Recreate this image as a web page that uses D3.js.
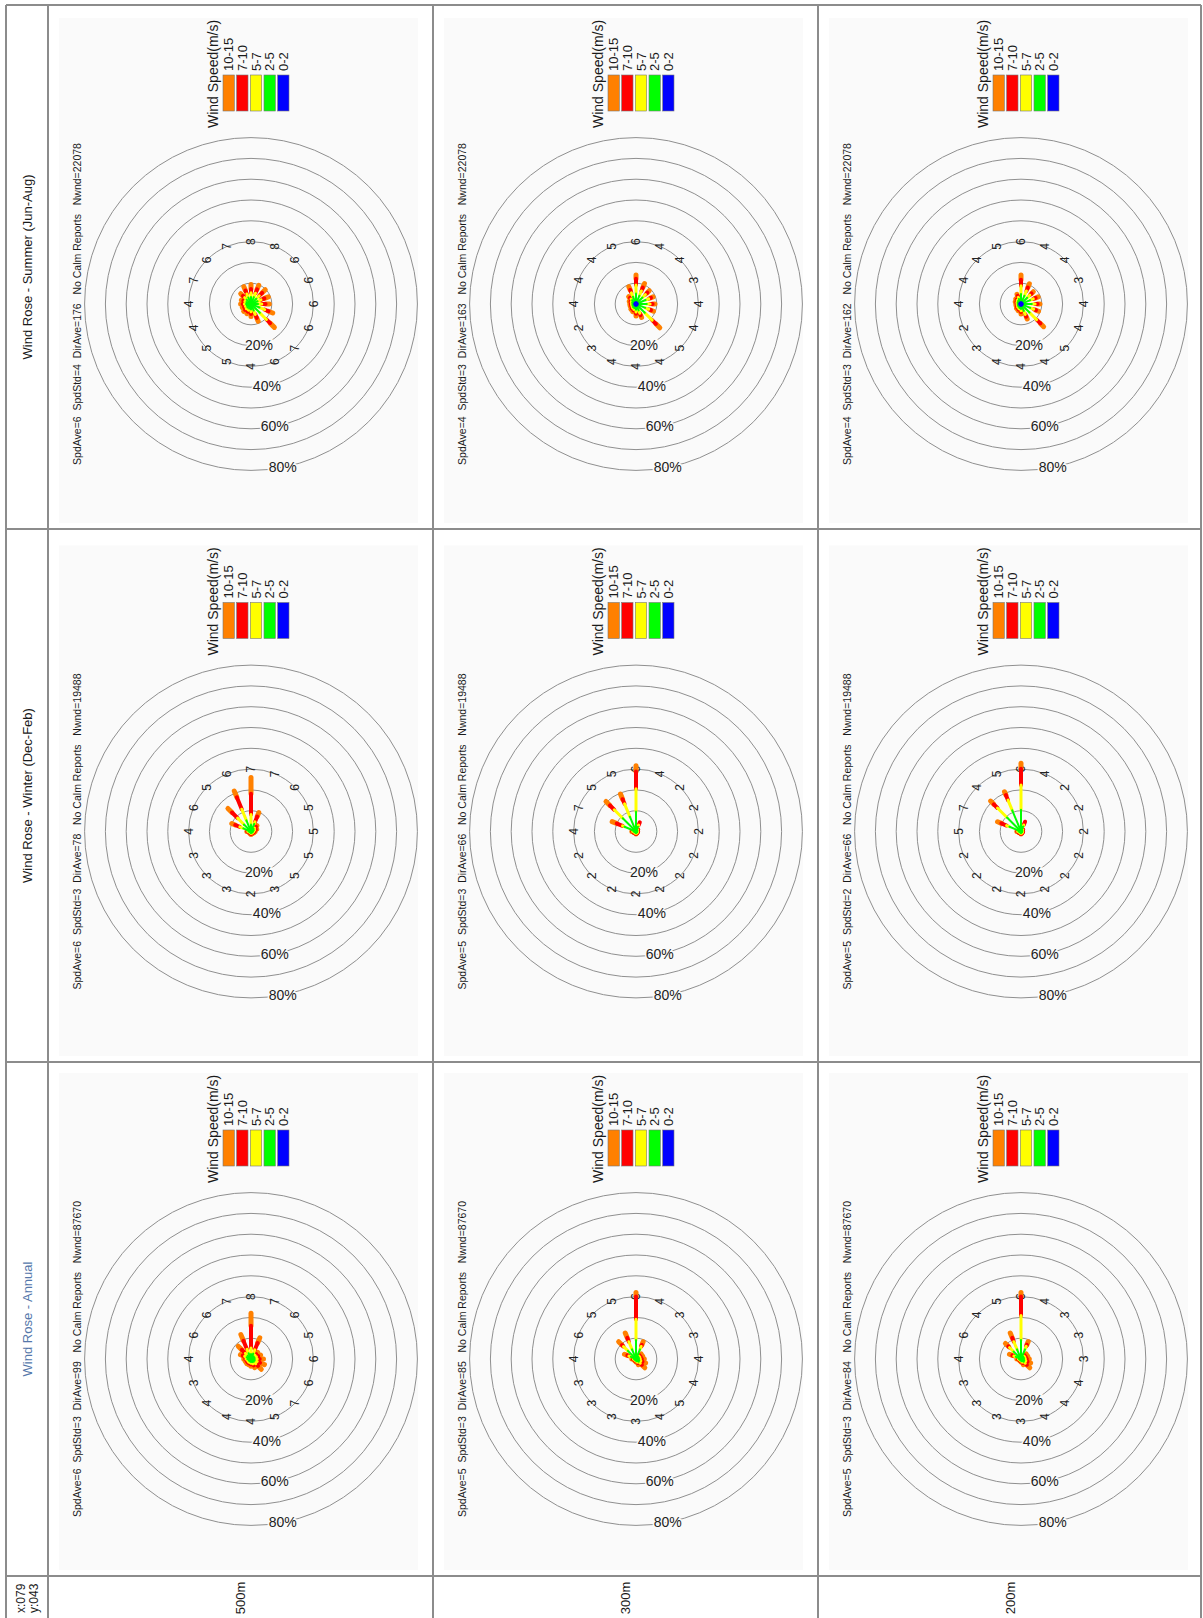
<!DOCTYPE html>
<html>
<head>
<meta charset="utf-8">
<script src="https://cdn.jsdelivr.net/npm/d3@7"></script>
<style>
  html, body { margin: 0; padding: 0; background: #fff; }
  svg { display: block; }
  text { font-family: "Liberation Sans", Arial, Helvetica, sans-serif; white-space: pre; }
</style>
</head>
<body>
<svg id="chart" width="1203" height="1618"></svg>
<script>
// compass sectors, N first, clockwise
var DIRECTIONS = ["N", "NNE", "NE", "ENE", "E", "ESE", "SE", "SSE", "S", "SSW", "SW", "WSW", "W", "WNW", "NW", "NNW"];
var SPEED_BINS = ["0-2", "2-5", "5-7", "7-10", "10-15"];
var HEIGHTS = ["500m", "300m", "200m"];
var SEASONS = ["summer", "winter", "annual"];
var SEASON_TITLES = ["Wind Rose - Summer (Jun-Aug)", "Wind Rose - Winter (Dec-Feb)", "Wind Rose - Annual"];
var RINGS = [10, 20, 30, 40, 50, 60, 70, 80];
var PERCENT_TICKS = [20, 40, 60, 80];
var CORNER_LABEL = ["x:079", "y:043"];

// mean speed per sector (numbers written on the 30% ring)
var summer500Labels = [4, 7, 6, 7, 8, 8, 6, 6, 6, 6, 7, 6, 4, 5, 5, 4];
var summer300Labels = [4, 4, 4, 5, 6, 4, 4, 3, 4, 4, 5, 4, 4, 4, 3, 2];
var summer200Labels = [4, 4, 4, 5, 6, 4, 4, 3, 4, 4, 5, 4, 4, 4, 3, 2];
var winter500Labels = [4, 6, 5, 6, 7, 7, 6, 5, 5, 5, 5, 3, 2, 3, 3, 3];
var winter300Labels = [4, 7, 5, 5, 6, 4, 2, 2, 2, 2, 2, 2, 2, 2, 2, 2];
var winter200Labels = [5, 7, 4, 5, 6, 4, 2, 2, 2, 2, 2, 2, 2, 2, 2, 2];
var annual500Labels = [4, 6, 6, 7, 8, 7, 6, 5, 6, 6, 7, 5, 4, 4, 4, 3];
var annual300Labels = [4, 6, 5, 5, 6, 4, 3, 3, 4, 4, 5, 4, 3, 3, 3, 3];
var annual200Labels = [4, 6, 4, 5, 6, 4, 3, 3, 3, 4, 4, 4, 3, 3, 3, 3];

// frequency (%) per sector, split by speed bin [0-2, 2-5, 5-7, 7-10, 10-15]
var summer500Freq = [
    [0, 2.4, 0.8, 0.8, 1.0], [0, 2.4, 0.8, 0.8, 1.0], [0, 3.0, 1.3, 1.2, 1.5], [0, 3.4, 1.8, 1.8, 2.0],
    [0, 3.4, 2.0, 1.8, 2.2], [0, 3.6, 2.0, 2.0, 2.1], [0, 3.6, 2.0, 2.0, 2.1], [0, 3.4, 1.8, 1.8, 2.0],
    [0, 3.4, 1.8, 1.8, 1.8], [0, 4.4, 2.7, 2.0, 2.2], [0, 6.0, 4.5, 2.5, 2.9], [0, 3.4, 2.0, 1.8, 1.8],
    [0, 2.7, 1.0, 1.1, 1.2], [0, 2.4, 0.8, 0.8, 1.0], [0, 2.4, 0.8, 0.8, 1.0], [0, 2.2, 0.7, 0.7, 0.9]
];
var summer300Freq = [
    [0.8, 1.0, 0.4, 0.3, 0.5], [0.8, 1.2, 0.5, 0.4, 0.6], [0.8, 1.8, 0.8, 0.7, 0.9], [0.8, 3.0, 2.0, 1.5, 1.7],
    [0.8, 4.2, 4.1, 3.0, 1.9], [0.8, 3.5, 2.5, 1.8, 2.0], [0.8, 3.6, 2.0, 1.3, 1.3], [0.8, 4.2, 1.6, 1.2, 1.1],
    [0.8, 4.4, 1.6, 1.2, 1.1], [0.8, 4.0, 1.8, 1.2, 1.3], [0.8, 5.2, 5.0, 2.5, 2.7], [0.8, 2.5, 1.5, 1.0, 1.2],
    [0.8, 2.0, 1.0, 0.9, 1.1], [0.8, 1.4, 0.6, 0.5, 0.7], [0.8, 1.2, 0.5, 0.4, 0.6], [0.8, 1.0, 0.4, 0.3, 0.5]
];
var summer200Freq = [
    [0.8, 0.8, 0.3, 0.2, 0.4], [0.8, 0.9, 0.4, 0.3, 0.6], [0.8, 1.2, 0.5, 0.4, 0.6], [0.8, 1.8, 0.9, 0.7, 0.8],
    [0.8, 4.0, 4.0, 2.9, 2.2], [0.8, 3.5, 2.5, 1.8, 1.9], [0.8, 3.4, 1.8, 1.2, 1.2], [0.8, 4.0, 1.6, 1.2, 1.3],
    [0.8, 4.4, 1.6, 1.2, 1.1], [0.8, 4.0, 1.8, 1.2, 1.3], [0.8, 5.0, 4.8, 2.6, 2.2], [0.8, 2.8, 1.8, 1.2, 1.2],
    [0.8, 1.6, 0.8, 0.7, 0.9], [0.8, 1.2, 0.5, 0.4, 0.6], [0.8, 1.0, 0.4, 0.3, 0.5], [0.8, 0.8, 0.3, 0.2, 0.4]
];
var winter500Freq = [
    [0, 1.2, 0.3, 0.3, 0.2], [0, 4.0, 1.8, 2.4, 1.8], [0, 4.8, 4.3, 3.8, 2.8], [0, 5.8, 5.8, 6.2, 3.2],
    [0, 3.4, 4.8, 10.0, 7.8], [0, 4.0, 1.0, 2.8, 2.0], [0, 1.8, 0.6, 0.9, 0.7], [0, 1.4, 0.5, 0.6, 0.5],
    [0, 1.0, 0.3, 0.4, 0.3], [0, 0.8, 0.2, 0.3, 0.2], [0, 0.7, 0.2, 0.2, 0.1], [0, 0.6, 0.1, 0.2, 0.1],
    [0, 0.7, 0.2, 0.3, 0.3], [0, 0.6, 0.1, 0.2, 0.1], [0, 0.6, 0.1, 0.2, 0.1], [0, 0.6, 0.1, 0.2, 0.1]
];
var winter300Freq = [
    [0, 1.2, 0.4, 0.2, 0.2], [0, 6.0, 1.0, 3.0, 2.4], [0, 9.0, 5.8, 2.9, 2.7], [0, 7.7, 6.7, 2.4, 2.7],
    [0, 9.6, 11.0, 8.2, 2.8], [0, 2.5, 0.8, 1.5, 0.0], [0, 0.9, 0.3, 0.3, 0.0], [0, 0.6, 0.2, 0.2, 0.0],
    [0, 0.6, 0.2, 0.2, 0.0], [0, 0.6, 0.2, 0.2, 0.0], [0, 0.6, 0.2, 0.2, 0.0], [0, 0.6, 0.2, 0.2, 0.0],
    [0, 0.7, 0.2, 0.2, 0.1], [0, 0.6, 0.2, 0.2, 0.0], [0, 0.6, 0.2, 0.2, 0.0], [0, 0.7, 0.2, 0.2, 0.1]
];
var winter200Freq = [
    [0, 1.2, 0.4, 0.2, 0.2], [0, 6.0, 1.5, 2.7, 2.0], [0, 9.5, 6.5, 2.5, 2.2], [0, 11.0, 5.3, 2.7, 1.7],
    [0, 10.4, 12.0, 7.8, 2.6], [0, 2.6, 0.8, 1.7, 0.0], [0, 0.9, 0.3, 0.3, 0.0], [0, 0.6, 0.2, 0.2, 0.0],
    [0, 0.6, 0.2, 0.2, 0.0], [0, 0.6, 0.2, 0.2, 0.0], [0, 0.6, 0.2, 0.2, 0.0], [0, 0.6, 0.2, 0.2, 0.0],
    [0, 0.7, 0.2, 0.2, 0.1], [0, 0.6, 0.2, 0.2, 0.0], [0, 0.6, 0.2, 0.2, 0.0], [0, 0.7, 0.2, 0.2, 0.1]
];
var annual500Freq = [
    [0, 1.8, 0.6, 0.4, 0.7], [0, 2.3, 1.0, 1.0, 1.2], [0, 2.3, 1.5, 2.4, 2.5], [0, 3.0, 2.0, 4.5, 3.2],
    [0, 2.4, 2.9, 10.7, 6.0], [0, 2.8, 2.0, 3.5, 2.7], [0, 1.8, 0.8, 0.8, 1.1], [0, 1.8, 1.0, 0.9, 1.3],
    [0, 1.8, 1.2, 1.2, 1.8], [0, 1.9, 1.3, 1.5, 2.3], [0, 1.9, 1.3, 1.5, 2.3], [0, 1.6, 0.9, 0.8, 1.2],
    [0, 1.5, 0.6, 0.6, 0.8], [0, 1.3, 0.5, 0.5, 0.7], [0, 1.3, 0.5, 0.5, 0.7], [0, 1.3, 0.5, 0.5, 0.7]
];
var annual300Freq = [
    [0, 1.0, 0.3, 0.3, 0.4], [0, 2.7, 1.0, 0.8, 1.5], [0, 5.5, 3.0, 1.0, 2.3], [0, 5.0, 4.0, 2.0, 2.5],
    [0, 9.1, 10.0, 10.9, 2.0], [0, 5.0, 1.5, 0.8, 1.7], [0, 1.5, 0.5, 0.5, 1.0], [0, 1.5, 0.5, 0.5, 1.0],
    [0, 1.5, 0.6, 0.7, 1.2], [0, 1.7, 0.8, 0.9, 1.6], [0, 1.9, 1.0, 1.1, 2.0], [0, 1.2, 0.4, 0.5, 0.9],
    [0, 0.8, 0.2, 0.2, 0.3], [0, 0.6, 0.1, 0.1, 0.2], [0, 0.6, 0.1, 0.1, 0.2], [0, 0.6, 0.1, 0.1, 0.2]
];
var annual200Freq = [
    [0, 1.0, 0.3, 0.3, 0.4], [0, 2.7, 1.0, 0.8, 1.5], [0, 5.0, 2.8, 0.8, 2.0], [0, 5.0, 4.0, 2.0, 2.5],
    [0, 9.1, 11.8, 9.1, 2.0], [0, 5.0, 1.6, 0.8, 1.7], [0, 1.5, 0.5, 0.5, 1.0], [0, 1.5, 0.5, 0.5, 1.0],
    [0, 1.5, 0.6, 0.7, 1.2], [0, 1.7, 0.8, 0.9, 1.6], [0, 1.9, 1.0, 1.1, 2.0], [0, 1.2, 0.4, 0.5, 0.9],
    [0, 0.8, 0.2, 0.2, 0.3], [0, 0.6, 0.1, 0.1, 0.2], [0, 0.6, 0.1, 0.1, 0.2], [0, 0.6, 0.1, 0.1, 0.2]
];

var summerStats = ["SpdAve=6  SpdStd=4  DirAve=176", "SpdAve=4  SpdStd=3  DirAve=163", "SpdAve=4  SpdStd=3  DirAve=162"];
var winterStats = ["SpdAve=6  SpdStd=3  DirAve=78", "SpdAve=5  SpdStd=3  DirAve=66", "SpdAve=5  SpdStd=2  DirAve=66"];
var annualStats = ["SpdAve=6  SpdStd=3  DirAve=99", "SpdAve=5  SpdStd=3  DirAve=85", "SpdAve=5  SpdStd=3  DirAve=84"];
var seasonNwnd = [22078, 19488, 87670];

(function () {
    var WIDTH = 1203, HEIGHT = 1618;
    var BIN_COLORS = ["#0000ff", "#00ff00", "#ffff00", "#ff0000", "#ff8000"];
    var BIN_WIDTHS = [2, 2, 3, 4, 5];
    var LINE = "#8c8c8c";

    var roses = [
        {season: 0, height: 0, labels: summer500Labels, freq: summer500Freq, stats: summerStats[0]},
        {season: 0, height: 1, labels: summer300Labels, freq: summer300Freq, stats: summerStats[1]},
        {season: 0, height: 2, labels: summer200Labels, freq: summer200Freq, stats: summerStats[2]},
        {season: 1, height: 0, labels: winter500Labels, freq: winter500Freq, stats: winterStats[0]},
        {season: 1, height: 1, labels: winter300Labels, freq: winter300Freq, stats: winterStats[1]},
        {season: 1, height: 2, labels: winter200Labels, freq: winter200Freq, stats: winterStats[2]},
        {season: 2, height: 0, labels: annual500Labels, freq: annual500Freq, stats: annualStats[0]},
        {season: 2, height: 1, labels: annual300Labels, freq: annual300Freq, stats: annualStats[1]},
        {season: 2, height: 2, labels: annual200Labels, freq: annual200Freq, stats: annualStats[2]}
    ];

    var svg = d3.select("#chart");

    // table: columns are the heights (screen x), rows are the seasons (screen y)
    var colEdges = [6, 48, 433, 818, 1201];
    var rowEdges = [5, 529, 1062, 1576];
    var colX = d3.scaleBand().domain(HEIGHTS).range([48, 1203]);
    var roseX = d3.scalePoint().domain(HEIGHTS).range([251, 1021]);
    var roseY = d3.scalePoint().domain(SEASONS).range([304, 1359]);

    // radius of the percent rings
    var r = d3.scaleLinear().domain([0, 80]).range([0, 166.4]);

    /**
     * Screen offset of a compass sector; the plots are turned so that north points left
     * @param {number} i - sector index
     * @param {number} len - distance from the centre in px
     */
    function polar(i, len) {
        var a = i * 22.5 * Math.PI / 180;
        return [-Math.cos(a) * len, -Math.sin(a) * len];
    }

    function rotatedText(sel, x, y, str, size, anchor) {
        return sel.append("text")
            .attr("transform", "translate(" + x + "," + y + ") rotate(-90)")
            .attr("text-anchor", anchor || "middle")
            .attr("dy", "0.35em")
            .attr("font-size", size)
            .attr("fill", "#1a1a1a")
            .text(str);
    }

    svg.append("rect").attr("width", WIDTH).attr("height", HEIGHT).attr("fill", "#fff");

    // plots
    roses.forEach(function (d) {
        var cx = roseX(HEIGHTS[d.height]);
        var cy = roseY(SEASONS[d.season]);
        var g = svg.append("g").attr("transform", "translate(" + cx + "," + cy + ")");

        var bgBottom = rowEdges[d.season + 1] - 6 - cy;
        g.append("rect")
            .attr("x", -192).attr("y", -286)
            .attr("width", 359).attr("height", bgBottom + 286)
            .attr("fill", "#fafafa");

        g.selectAll("circle.ring")
            .data(RINGS)
            .enter().append("circle")
            .attr("class", "ring")
            .attr("r", r)
            .attr("fill", "none")
            .attr("stroke", "#8f8f8f")
            .attr("stroke-width", 1);

        // mean speed numbers on the 30% ring
        d.labels.forEach(function (v, i) {
            var p = polar(i, r(30));
            rotatedText(g, p[0], p[1], String(v), 12, "middle").attr("fill", "#222");
        });

        // spikes: one segment per speed bin, fast bins drawn first so the slow spokes stay on top
        var segments = [];
        d.freq.forEach(function (f, i) {
            var c = Array.from(d3.cumsum(f));
            f.forEach(function (v, b) {
                if (v > 0) segments.push({i: i, b: b, r0: b ? c[b - 1] : 0, r1: c[b]});
            });
        });
        segments.sort(function (a, b) { return b.b - a.b; });
        g.append("g").selectAll("line")
            .data(segments)
            .enter().append("line")
            .attr("x1", function (s) { return polar(s.i, r(s.r0))[0]; })
            .attr("y1", function (s) { return polar(s.i, r(s.r0))[1]; })
            .attr("x2", function (s) { return polar(s.i, r(s.r1))[0]; })
            .attr("y2", function (s) { return polar(s.i, r(s.r1))[1]; })
            .attr("stroke", function (s) { return BIN_COLORS[s.b]; })
            .attr("stroke-width", function (s) { return BIN_WIDTHS[s.b]; })
            .attr("stroke-linecap", "round");

        // percent labels, just right of straight down
        var tilt = 11 * Math.PI / 180;
        g.selectAll("text.pct")
            .data(PERCENT_TICKS)
            .enter().append("text")
            .attr("class", "pct")
            .attr("x", function (v) { return Math.sin(tilt) * r(v); })
            .attr("y", function (v) { return Math.cos(tilt) * r(v); })
            .attr("dy", "0.35em")
            .attr("text-anchor", "middle")
            .attr("font-size", 14)
            .attr("fill", "#222")
            .attr("stroke", "#fafafa")
            .attr("stroke-width", 3)
            .attr("paint-order", "stroke")
            .text(function (v) { return v + "%"; });

        // stats line
        rotatedText(g, -174, 0,
            d.stats + "   No Calm Reports   Nwnd=" + seasonNwnd[d.season], 10.5, "middle");

        // legend
        var lg = g.append("g");
        var bins = SPEED_BINS.slice().reverse();
        var sw = d3.scaleBand().domain(bins).range([-28, 38]).paddingInner(0.17);
        lg.selectAll("rect")
            .data(bins)
            .enter().append("rect")
            .attr("x", function (s) { return sw(s); })
            .attr("y", -229)
            .attr("width", sw.bandwidth())
            .attr("height", 36)
            .attr("fill", function (s) { return BIN_COLORS[SPEED_BINS.indexOf(s)]; })
            .attr("stroke", "#777")
            .attr("stroke-width", 0.6);
        bins.forEach(function (s) {
            rotatedText(lg, sw(s) + sw.bandwidth() / 2, -233, s, 13, "start");
        });
        rotatedText(lg, -38, -176, "Wind Speed(m/s)", 14, "start");
    });

    // grid lines
    colEdges.forEach(function (x) {
        svg.append("line").attr("x1", x).attr("x2", x).attr("y1", rowEdges[0]).attr("y2", HEIGHT)
            .attr("stroke", LINE).attr("stroke-width", 2);
    });
    rowEdges.forEach(function (y) {
        svg.append("line").attr("x1", colEdges[0]).attr("x2", colEdges[colEdges.length - 1]).attr("y1", y).attr("y2", y)
            .attr("stroke", LINE).attr("stroke-width", 2);
    });

    // row titles in the left strip
    SEASON_TITLES.forEach(function (t, i) {
        var y = (rowEdges[i] + rowEdges[i + 1]) / 2;
        rotatedText(svg, 27, y, t, 13, "middle")
            .attr("fill", i === 2 ? "#5577aa" : "#1a1a1a");
    });

    // column labels in the bottom strip
    HEIGHTS.forEach(function (h) {
        rotatedText(svg, colX(h) + colX.bandwidth() / 2, 1598, h, 13, "middle");
    });

    // corner
    CORNER_LABEL.forEach(function (t, i) {
        rotatedText(svg, 21 + i * 12.6, 1613, t, 12, "start");
    });
})();
</script>
</body>
</html>
